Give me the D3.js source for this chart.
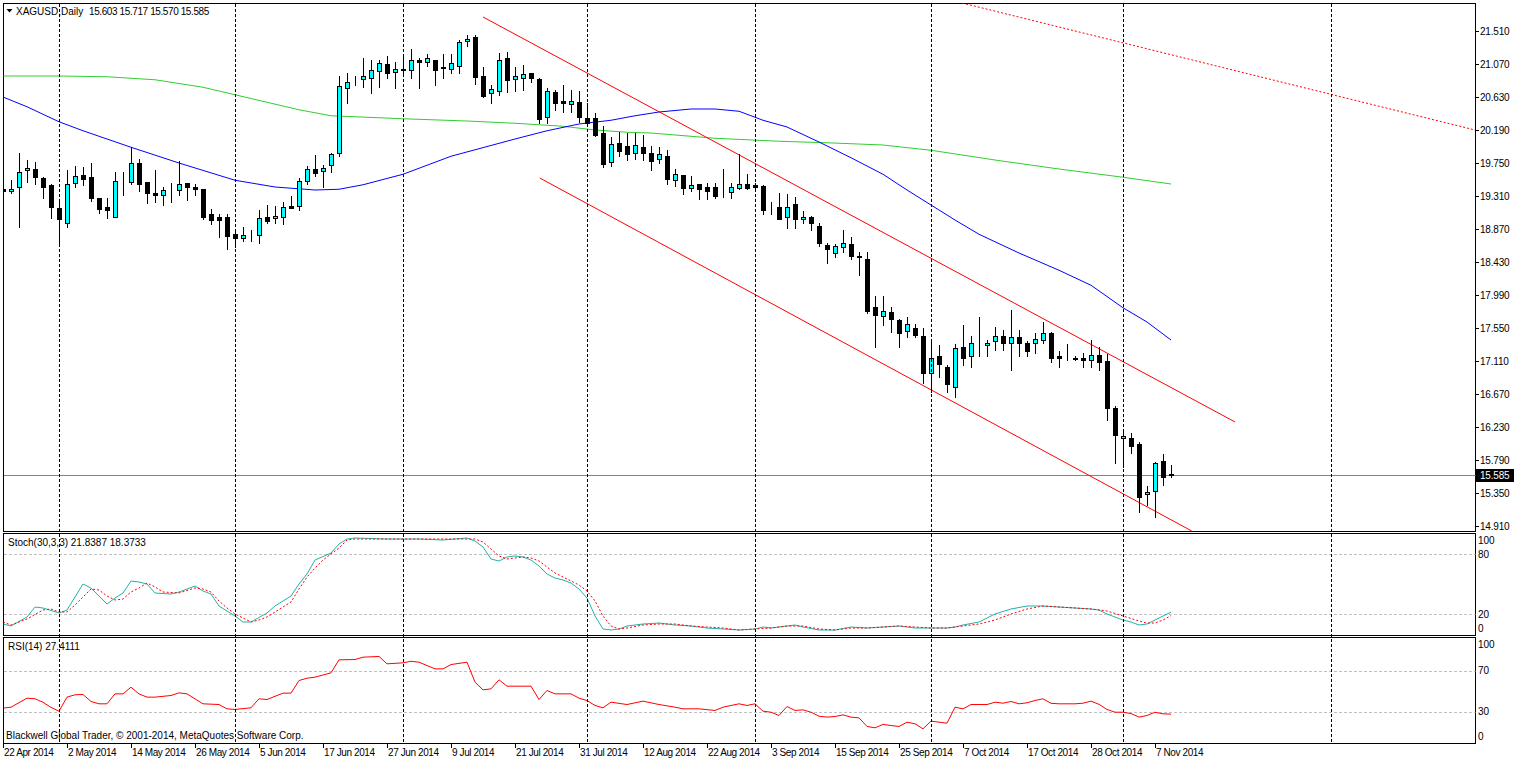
<!DOCTYPE html>
<html><head><meta charset="utf-8">
<script src="https://cdn.jsdelivr.net/npm/d3@7"></script>
<style>
html,body{margin:0;padding:0;background:#fff;overflow:hidden;}
svg{display:block;font-family:"Liberation Sans",Arial,sans-serif;font-size:10px;}
.crisp{shape-rendering:crispEdges;}
</style></head><body><svg id="c" width="1514" height="761"></svg>
<script>
// ---------------- DATA ----------------
const symbolLabel = "XAGUSD,Daily";
const lastOHLC = [15.603, 15.717, 15.570, 15.585];
const stochLabel = "Stoch(30,3,3) 21.8387 18.3733";
const rsiLabel = "RSI(14) 27.4111";
const copyright = "Blackwell Global Trader, \u00A9 2001-2014, MetaQuotes Software Corp.";

const opens  = [19.40,19.37,19.43,19.66,19.67,19.55,19.46,19.15,18.95,19.49,19.59,19.56,19.28,19.16,19.03,19.515,19.50,19.75,19.50,19.35,19.32,19.38,19.39,19.48,19.43,19.40,19.07,19.03,19.03,18.80,18.75,18.78,18.79,19.03,19.01,19.03,19.17,19.17,19.51,19.67,19.64,19.72,19.88,20.75,20.85,20.87,20.88,20.98,21.07,20.96,21.00,20.99,21.13,21.10,21.12,21.03,21.00,21.05,21.38,21.43,20.91,20.68,20.71,21.15,20.87,20.89,20.95,20.87,20.36,20.70,20.58,20.54,20.57,20.35,20.35,20.15,19.77,20.01,19.98,19.88,19.96,19.89,19.80,19.84,19.53,19.59,19.42,19.47,19.43,19.43,19.33,19.36,19.42,19.47,19.46,19.44,19.15,19.16,19.03,19.20,19.00,19.03,18.91,18.66,18.55,18.63,18.67,18.51,18.47,17.83,17.71,17.76,17.66,17.51,17.55,17.44,16.95,17.17,17.03,16.77,17.30,17.18,17.33,17.32,17.38,17.45,17.35,17.43,17.35,17.35,17.39,17.49,17.17,17.18,17.15,17.15,17.12,17.19,17.11,16.49,16.08,16.09,16.00,15.34,15.38,15.78,15.603];
const highs  = [19.50,19.52,19.89,19.79,19.76,19.56,19.47,19.26,19.66,19.71,19.70,19.75,19.28,19.28,19.63,19.63,19.96,19.80,19.50,19.66,19.43,19.48,19.78,19.49,19.47,19.40,19.14,19.07,19.07,18.86,18.90,18.86,19.12,19.19,19.17,19.23,19.31,19.55,19.71,19.86,19.72,19.89,20.91,20.95,20.91,21.15,21.13,21.13,21.18,21.10,21.21,21.27,21.15,21.21,21.13,21.21,21.21,21.39,21.46,21.46,21.03,20.79,21.22,21.23,21.03,21.06,20.95,20.89,20.75,20.73,20.79,20.72,20.71,20.55,20.42,20.24,20.10,20.17,20.15,20.15,20.12,19.98,19.97,19.93,19.67,19.59,19.58,19.47,19.49,19.48,19.67,19.49,19.87,19.60,19.48,19.46,19.23,19.35,19.34,19.30,19.11,19.04,18.95,18.68,18.67,18.86,18.77,18.57,18.57,17.98,17.98,17.83,17.67,17.70,17.61,17.55,17.41,17.32,17.06,17.34,17.59,17.44,17.69,17.39,17.57,17.53,17.79,17.52,17.38,17.48,17.63,17.50,17.25,17.34,17.18,17.22,17.39,17.30,17.21,16.51,16.21,16.15,16.03,15.44,15.77,15.87,15.717];
const lows   = [19.26,19.35,18.90,19.50,19.47,19.29,19.02,18.66,18.90,19.43,19.46,19.25,19.08,19.01,19.03,19.33,19.47,19.38,19.22,19.23,19.19,19.23,19.33,19.26,19.32,19.00,18.94,18.77,18.60,18.63,18.71,18.71,18.68,18.95,18.95,18.94,19.15,19.12,19.47,19.58,19.43,19.63,19.85,20.55,20.79,20.77,20.68,20.76,20.88,20.75,20.93,20.88,20.75,21.05,20.79,20.88,20.95,20.95,21.31,20.81,20.63,20.55,20.66,20.70,20.71,20.72,20.83,20.28,20.28,20.46,20.43,20.43,20.30,20.25,20.11,19.70,19.71,19.84,19.79,19.81,19.79,19.66,19.75,19.47,19.44,19.34,19.38,19.27,19.27,19.29,19.30,19.29,19.41,19.40,19.41,19.07,19.07,19.00,18.88,18.88,18.95,18.86,18.65,18.42,18.50,18.57,18.47,18.26,17.75,17.30,17.59,17.50,17.30,17.43,17.43,16.82,16.70,16.90,16.70,16.63,17.06,17.03,17.18,17.17,17.26,17.26,16.99,17.17,17.18,17.22,17.35,17.10,17.03,17.12,17.12,17.03,17.03,16.99,16.33,15.75,15.70,15.89,15.10,15.19,15.03,15.46,15.570];
const closes = [19.38,19.41,19.63,19.69,19.56,19.43,19.16,19.00,19.47,19.58,19.54,19.29,19.14,19.13,19.51,19.51,19.75,19.47,19.35,19.33,19.39,19.37,19.47,19.43,19.41,19.03,18.99,18.99,18.78,18.75,18.79,18.78,19.01,18.98,19.04,19.16,19.15,19.51,19.67,19.62,19.69,19.87,20.78,20.83,20.85,20.91,20.99,21.09,20.95,21.00,20.99,21.12,21.10,21.15,20.99,21.01,21.08,21.37,21.41,20.90,20.64,20.74,21.13,20.85,20.91,20.94,20.89,20.34,20.71,20.55,20.55,20.58,20.36,20.29,20.12,19.74,20.00,19.91,19.87,19.99,19.88,19.78,19.87,19.54,19.60,19.42,19.46,19.40,19.38,19.31,19.33,19.43,19.47,19.42,19.43,19.13,19.15,19.00,19.16,19.00,19.03,18.95,18.68,18.61,18.64,18.68,18.51,18.50,17.78,17.72,17.78,17.67,17.49,17.60,17.46,16.95,17.15,17.07,16.81,17.29,17.15,17.35,17.33,17.35,17.45,17.35,17.43,17.35,17.24,17.40,17.49,17.15,17.15,17.18,17.14,17.12,17.19,17.10,16.49,16.12,16.11,15.98,15.30,15.37,15.75,15.57,15.585];

const dateLabels = ["22 Apr 2014","2 May 2014","14 May 2014","26 May 2014","5 Jun 2014","17 Jun 2014","27 Jun 2014","9 Jul 2014","21 Jul 2014","31 Jul 2014","12 Aug 2014","22 Aug 2014","3 Sep 2014","15 Sep 2014","25 Sep 2014","7 Oct 2014","17 Oct 2014","28 Oct 2014","7 Nov 2014"];
const dateLabelIdx = [0,8,16,24,32,40,48,56,64,72,80,88,96,104,112,120,128,136,144];
const separatorIdx = [7,29,50,73,94,116,140,166];
const priceTicks = [21.51,21.07,20.63,20.19,19.75,19.31,18.87,18.43,17.99,17.55,17.11,16.67,16.23,15.79,15.35,14.91];

// moving averages
const maBlueIdx = [0,3,7,10,16,22,29,34,39,42,45,50,56,64,68,72,76,79,82,86,89,92,95,98,102,106,110,113,116,119,122,127,132,136,140,143,146];
const maBlueVal = [20.63,20.50,20.30,20.18,19.96,19.75,19.52,19.43,19.39,19.40,19.46,19.60,19.84,20.07,20.18,20.27,20.32,20.38,20.43,20.47,20.47,20.44,20.32,20.23,20.03,19.82,19.60,19.39,19.19,18.99,18.80,18.55,18.32,18.12,17.82,17.63,17.39];
const maGreenIdx = [0,7,13,19,25,29,33,37,41,50,58,64,70,74,78,81,89,97,103,110,116,124,132,140,146];
const maGreenVal = [20.91,20.91,20.90,20.86,20.76,20.66,20.56,20.46,20.38,20.34,20.31,20.28,20.24,20.19,20.16,20.15,20.08,20.04,20.02,19.99,19.92,19.79,19.67,19.56,19.47];

// trend lines (bar index, price)
const chanUpperIdx = [60,154], chanUpperVal = [21.697,16.297];
const chanLowerIdx = [67.1,148.6], chanLowerVal = [19.55,14.843];
const dottedIdx = [119.9,184], dottedVal = [21.883,20.19];

// stochastic
const stochMainIdx = [0,1,3,4,5,7,8,10,11,13,14,15,16,17,18,19,21,22,24,25,26,27,29,30,31,33,34,36,37,38,39,41,42,43,44,48,52,55,58,59,60,61,62,63,64,65,66,67,68,69,70,71,72,73,74,75,76,77,78,80,82,84,86,88,90,92,94,95,96,98,99,100,102,104,106,108,110,112,114,116,118,119,120,122,124,126,128,130,132,134,136,137,138,139,140,141,142,143,144,145,146];
const stochMainVal = [10,8,17,27,26,21,24,50,46,30,36,41,53,52,50,41,40,42,48,43,40,28,18,12,12,21,28,38,50,60,74,81,90,95,96,95,95,94,96,93,87,75,73,77,78,77,74,68,60,56,54,51,45,36,18,5,4,5,8,10,11,9,8,6,5,4,5,7,6,8,9,7,4,4,7,6,7,8,6,6,6,7,9,12,20,25,28,28,27,26,25,24,20,17,14,12,9,10,14,18,21.84];
const stochSigIdx = [0,1,3,5,6,7,8,9,11,12,13,14,15,16,17,18,19,20,22,24,25,26,27,28,29,30,31,32,33,35,36,37,38,39,40,41,42,43,44,50,58,59,60,61,62,63,64,65,66,67,68,69,70,71,72,73,74,75,76,77,78,80,82,84,86,88,90,92,94,96,98,100,102,104,106,108,110,112,114,116,118,120,122,124,126,128,130,132,134,136,138,140,142,143,144,145,146];
const stochSigVal = [12,9,15,24,25,22,22,29,45,44,38,34,35,42,46,51,47,42,41,46,45,42,33,26,20,16,12,14,17,27,32,45,57,66,74,80,86,94,95,95,95,95,92,85,78,75,76,77,76,73,67,61,57,53,49,43,33,18,8,5,6,9,10,10,8,7,6,4,5,6,8,8,5,4,6,6,7,8,7,6,6,8,10,14,20,25,28,27,26,25,23,18,13,11,11,14,18.37];
const stochLevels = [80,20];
const stochTicks = [100,80,20,0];

// RSI
const rsiIdx = [0,1,3,4,5,6,7,8,9,10,11,12,13,14,15,16,17,18,19,21,22,23,25,27,28,29,31,32,33,35,36,37,38,39,41,42,44,45,47,48,50,51,52,54,55,56,58,59,60,61,62,63,66,67,68,69,71,72,73,74,75,76,78,80,82,84,85,87,89,90,92,93,94,95,96,97,98,99,100,101,102,103,104,105,106,107,108,109,110,111,112,113,114,115,116,118,119,120,121,123,124,125,126,127,128,129,130,131,132,134,135,136,137,138,139,140,141,142,143,144,145,146];
const rsiVal = [33.3,34.2,43,42.4,39,34,30.3,44,46.3,46.6,39.8,37.5,37.5,47.2,47.2,53.7,47.2,44,44,45.6,48.2,47.2,37.5,36.8,32.6,32,33.6,42.4,41.7,47.9,47.9,60.2,62.5,63.5,67.7,80.4,80.7,83,83.7,76.5,77.5,79,78.1,71.6,71.6,75.8,78.1,58.6,51.1,52.1,60.9,54.7,54.7,41.7,50.5,47.2,47.2,43,40.7,35.9,33.6,39.1,36.8,40.1,36.8,34.2,32.6,32.6,31,34.2,37.5,35.9,37.5,30.3,29.3,26.1,34.9,31,31.6,29.3,25.4,24.5,25.1,26.7,24.5,23.8,15.4,14.1,17.4,16.3,15.4,19.6,18,13.1,20.6,18.6,34.2,32.6,36.8,36.8,39.1,38.1,39.8,37.5,38.5,40.7,42.4,38,37.5,37.5,38.1,40.1,37,32,29.3,29.3,28,24.5,26.1,29.3,27.7,27.41];
const rsiLevels = [70,30];
const rsiTicks = [100,70,30,0];

// ---------------- LAYOUT ----------------
const L = 3.5, R = 1475.5;
const P = { main:{top:3.5,bottom:531.5}, stoch:{top:533.5,bottom:635.5}, rsi:{top:637.5,bottom:743.5} };

const svg = d3.select("#c");
const x = d3.scaleLinear().domain([0,146]).range([3,1171]);
const y = d3.scaleLinear().domain([14.91,21.51]).range([526,31]);
const ys = d3.scaleLinear().domain([20,80]).range([614,554]);
const yr = d3.scaleLinear().domain([30,70]).range([711.5,670.5]);

const defs = svg.append("defs");
Object.entries(P).forEach(([k,p])=>{
  defs.append("clipPath").attr("id","clip-"+k).append("rect")
    .attr("x",L).attr("y",p.top).attr("width",R-L).attr("height",p.bottom-p.top);
});

// panel frames
Object.values(P).forEach(p=>{
  svg.append("rect").attr("class","crisp").attr("x",L).attr("y",p.top).attr("width",R-L).attr("height",p.bottom-p.top)
    .attr("fill","#fff").attr("stroke","#000").attr("stroke-width",1);
});

const gMain = svg.append("g").attr("clip-path","url(#clip-main)");
const gSto = svg.append("g").attr("clip-path","url(#clip-stoch)");
const gRsi = svg.append("g").attr("clip-path","url(#clip-rsi)");

// level lines
gSto.selectAll("line.lvl").data(stochLevels).join("line").attr("class","crisp")
  .attr("x1",L).attr("x2",R).attr("y1",d=>Math.round(ys(d))+0.5).attr("y2",d=>Math.round(ys(d))+0.5)
  .attr("stroke","#c0c0c0").attr("stroke-dasharray","3,2");
gRsi.selectAll("line.lvl").data(rsiLevels).join("line").attr("class","crisp")
  .attr("x1",L).attr("x2",R).attr("y1",d=>Math.round(yr(d))+0.5).attr("y2",d=>Math.round(yr(d))+0.5)
  .attr("stroke","#c0c0c0").attr("stroke-dasharray","3,2");

// separators (span all panels)
svg.selectAll("line.sep").data(separatorIdx).join("line").attr("class","sep crisp")
  .attr("x1",d=>Math.round(x(d))+0.5).attr("x2",d=>Math.round(x(d))+0.5)
  .attr("y1",P.main.top).attr("y2",P.rsi.bottom)
  .attr("stroke","#000").attr("stroke-dasharray","3,2");

// current price line
gMain.append("line").attr("class","crisp")
  .attr("x1",L).attr("x2",R).attr("y1",Math.round(y(lastOHLC[3]))+0.5).attr("y2",Math.round(y(lastOHLC[3]))+0.5)
  .attr("stroke","#778899");

// moving averages
const lineGen = (xs,ys_,idx,val)=>d3.line().x((d,i)=>xs(idx[i])).y((d,i)=>ys_(val[i]))(idx);
gMain.append("path").attr("d",lineGen(x,y,maGreenIdx,maGreenVal)).attr("fill","none").attr("stroke","#32cd32").attr("stroke-width",1);
gMain.append("path").attr("d",lineGen(x,y,maBlueIdx,maBlueVal)).attr("fill","none").attr("stroke","#0000ff").attr("stroke-width",1);

// trend lines
gMain.append("path").attr("d",lineGen(x,y,chanUpperIdx,chanUpperVal)).attr("fill","none").attr("stroke","#ff0000");
gMain.append("path").attr("d",lineGen(x,y,chanLowerIdx,chanLowerVal)).attr("fill","none").attr("stroke","#ff0000");
gMain.append("path").attr("d",lineGen(x,y,dottedIdx,dottedVal)).attr("fill","none").attr("stroke","#ff0000").attr("stroke-dasharray","2,2");

// candles
const idx = d3.range(opens.length);
const cg = gMain.selectAll("g.c").data(idx).join("g").attr("class","c crisp");
cg.append("line")
  .attr("x1",i=>Math.round(x(i))+0.5).attr("x2",i=>Math.round(x(i))+0.5)
  .attr("y1",i=>Math.round(y(highs[i]))).attr("y2",i=>Math.round(y(lows[i]))+1)
  .attr("stroke","#000");
cg.append("rect")
  .attr("x",i=>Math.round(x(i))-1.5).attr("width",4)
  .attr("y",i=>Math.round(y(Math.max(opens[i],closes[i])))+0.5)
  .attr("height",i=>Math.max(0,Math.round(y(Math.min(opens[i],closes[i])))-Math.round(y(Math.max(opens[i],closes[i])))))
  .attr("fill",i=>closes[i]>=opens[i]?"#00ffff":"#000")
  .attr("stroke","#000");

// stochastic lines
gSto.append("path").attr("d",lineGen(x,ys,stochMainIdx,stochMainVal)).attr("fill","none").attr("stroke","#20b2aa");
gSto.append("path").attr("d",lineGen(x,ys,stochSigIdx,stochSigVal)).attr("fill","none").attr("stroke","#ff0000").attr("stroke-dasharray","2,2");

// RSI line
gRsi.append("path").attr("d",lineGen(x,yr,rsiIdx,rsiVal)).attr("fill","none").attr("stroke","#ff0000");

// ---------------- AXES ----------------
const pa = svg.append("g");
pa.selectAll("line").data(priceTicks).join("line").attr("class","crisp")
  .attr("x1",R).attr("x2",R+3).attr("y1",d=>Math.round(y(d))+0.5).attr("y2",d=>Math.round(y(d))+0.5).attr("stroke","#000");
pa.selectAll("text").data(priceTicks).join("text")
  .attr("x",1480).attr("y",d=>y(d)).attr("dy","0.35em").style("letter-spacing","-0.2px").text(d=>d3.format(".3f")(d));
const cy = Math.round(y(lastOHLC[3]));
svg.append("rect").attr("x",R+0.5).attr("y",cy-6).attr("width",38).attr("height",13).attr("fill","#000");
svg.append("text").attr("x",1480).attr("y",cy).attr("dy","0.38em").attr("fill","#fff").style("letter-spacing","-0.2px").text(d3.format(".3f")(lastOHLC[3]));

const clampY = (v,p)=>Math.max(p.top+7,Math.min(p.bottom-7,v));
svg.append("g").selectAll("text").data(stochTicks).join("text")
  .attr("x",1478).attr("y",d=>clampY(ys(d),P.stoch)).attr("dy","0.35em").text(d=>d);
svg.append("g").selectAll("text").data(rsiTicks).join("text")
  .attr("x",1478).attr("y",d=>clampY(yr(d),P.rsi)).attr("dy","0.35em").text(d=>d);

const da = svg.append("g");
da.selectAll("line").data(dateLabelIdx).join("line").attr("class","crisp")
  .attr("x1",d=>Math.round(x(d))+0.5).attr("x2",d=>Math.round(x(d))+0.5)
  .attr("y1",P.rsi.bottom).attr("y2",P.rsi.bottom+4).attr("stroke","#000");
da.selectAll("text").data(dateLabelIdx).join("text")
  .attr("x",d=>x(d)+1).attr("y",752).attr("dy","0.35em").style("letter-spacing","-0.4px").text((d,i)=>dateLabels[i]);

// ---------------- TITLES ----------------
svg.append("path").attr("d","M6.5,9 L12.5,9 L9.5,12.5 Z").attr("fill","#000");
svg.append("text").attr("x",16).attr("y",11).attr("dy","0.35em").text(symbolLabel);
svg.append("text").attr("x",89).attr("y",11).attr("dy","0.35em").style("letter-spacing","-0.4px").text(lastOHLC.map(v=>v.toFixed(3)).join(" "));
svg.append("text").attr("x",8).attr("y",542).attr("dy","0.35em").text(stochLabel);
svg.append("text").attr("x",8).attr("y",646).attr("dy","0.35em").text(rsiLabel);
svg.append("text").attr("x",6).attr("y",735).attr("dy","0.35em").text(copyright);
</script></body></html>
